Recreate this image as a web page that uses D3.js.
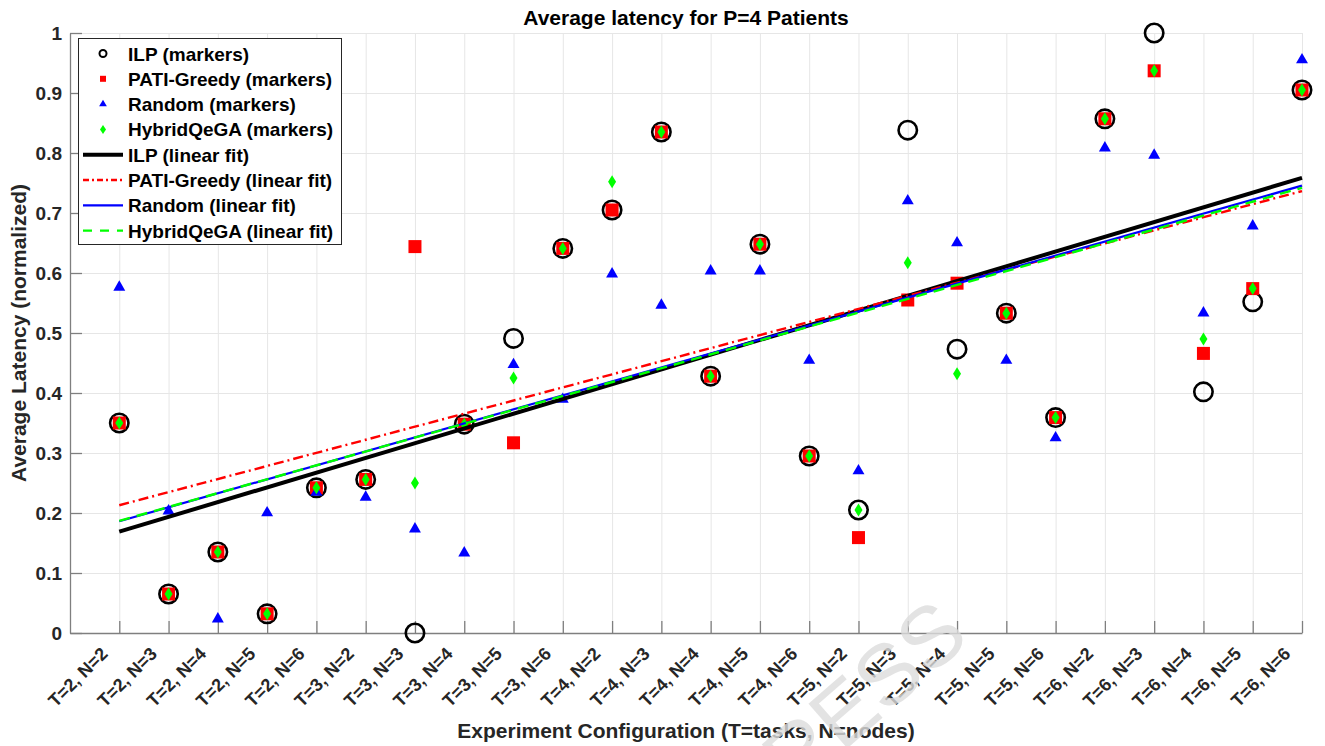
<!DOCTYPE html>
<html>
<head>
<meta charset="utf-8">
<script src="https://cdn.jsdelivr.net/npm/d3@7"></script>
<style>
  html, body { margin: 0; padding: 0; background: #fff; }
  svg { display: block; font-family: "Liberation Sans", Arial, sans-serif; }
</style>
</head>
<body>
<svg id="chart" width="1325" height="746"></svg>
<script>
// Experiment configurations (x axis)
const categories = [
  "T=2, N=2", "T=2, N=3", "T=2, N=4", "T=2, N=5", "T=2, N=6",
  "T=3, N=2", "T=3, N=3", "T=3, N=4", "T=3, N=5", "T=3, N=6",
  "T=4, N=2", "T=4, N=3", "T=4, N=4", "T=4, N=5", "T=4, N=6",
  "T=5, N=2", "T=5, N=3", "T=5, N=4", "T=5, N=5", "T=5, N=6",
  "T=6, N=2", "T=6, N=3", "T=6, N=4", "T=6, N=5", "T=6, N=6"
];

// Normalized average latency per method
const ilpValues = [0.350, 0.065, 0.135, 0.032, 0.242, 0.256, 0.000, 0.348, 0.491, 0.641,
                   0.705, 0.835, 0.428, 0.648, 0.295, 0.205, 0.838, 0.473, 0.533, 0.359,
                   0.857, 1.000, 0.402, 0.552, 0.905];
const greedyValues = [0.350, 0.065, 0.135, 0.032, 0.242, 0.256, 0.644, 0.348, 0.317, 0.641,
                      0.705, 0.835, 0.428, 0.648, 0.295, 0.159, 0.555, 0.583, 0.533, 0.359,
                      0.857, 0.937, 0.466, 0.574, 0.905];
const randomValues = [0.578, 0.205, 0.025, 0.202, 0.236, 0.228, 0.175, 0.135, 0.449, 0.391,
                      0.600, 0.548, 0.605, 0.605, 0.456, 0.272, 0.722, 0.652, 0.456, 0.327,
                      0.810, 0.798, 0.535, 0.680, 0.957];
const hybridValues = [0.350, 0.065, 0.135, 0.032, 0.242, 0.256, 0.250, 0.348, 0.425, 0.641,
                      0.752, 0.835, 0.428, 0.648, 0.295, 0.205, 0.617, 0.432, 0.533, 0.359,
                      0.857, 0.937, 0.490, 0.574, 0.905];

const yTickValues = [0, 0.1, 0.2, 0.3, 0.4, 0.5, 0.6, 0.7, 0.8, 0.9, 1];
const yTickLabels = ["0", "0.1", "0.2", "0.3", "0.4", "0.5", "0.6", "0.7", "0.8", "0.9", "1"];

const titleText = "Average latency for P=4 Patients";
const xLabelText = "Experiment Configuration (T=tasks, N=nodes)";
const yLabelText = "Average Latency (normalized)";

const svg = d3.select("#chart");
const plotLeft = 70, plotRight = 1302, plotTop = 33, plotBottom = 633;

const x = d3.scaleLinear().domain([0, categories.length]).range([plotLeft, plotRight]);
const y = d3.scaleLinear().domain([0, 1]).range([plotBottom, plotTop]);
const xIdx = d3.range(1, categories.length + 1);

const textColor = "#262626";
const axisColor = "#7f7f7f";
const gridColor = "#e6e6e6";

// Grid
svg.append("g")
  .attr("transform", `translate(0,${plotBottom})`)
  .call(d3.axisBottom(x).tickValues(xIdx).tickSize(-(plotBottom - plotTop)).tickFormat(""))
  .call(g => g.select(".domain").remove())
  .call(g => g.selectAll("line").attr("stroke", gridColor));
svg.append("g")
  .attr("transform", `translate(${plotLeft},0)`)
  .call(d3.axisLeft(y).tickValues(yTickValues).tickSize(-(plotRight - plotLeft)).tickFormat(""))
  .call(g => g.select(".domain").remove())
  .call(g => g.selectAll("line").attr("stroke", gridColor));

// Axes
const yAxis = svg.append("g")
  .attr("transform", `translate(${plotLeft},0)`)
  .call(d3.axisLeft(y).tickValues(yTickValues).tickSizeInner(-12).tickSizeOuter(0).tickPadding(8)
        .tickFormat((d, i) => yTickLabels[i]));
yAxis.selectAll("text").attr("font-size", 19).attr("font-weight", "bold").attr("fill", textColor);

const xAxis = svg.append("g")
  .attr("transform", `translate(0,${plotBottom})`)
  .call(d3.axisBottom(x).tickValues(xIdx).tickSizeInner(-12).tickSizeOuter(0)
        .tickFormat(i => categories[i - 1]));
xAxis.selectAll("text")
  .attr("font-size", 18).attr("font-weight", "bold").attr("fill", textColor)
  .attr("text-anchor", "end")
  .attr("dy", null)
  .attr("y", 0)
  .attr("transform", "translate(-11,22) rotate(-45)");

[yAxis, xAxis].forEach(a => {
  a.select(".domain").attr("stroke", axisColor).attr("stroke-width", 1.3);
  a.selectAll(".tick line").attr("stroke", axisColor).attr("stroke-width", 1.3);
});

// Least-squares fit of a series over the category index
function linearFit(vals) {
  const mx = d3.mean(xIdx), my = d3.mean(vals);
  let sxy = 0, sxx = 0;
  vals.forEach((v, i) => { sxy += (xIdx[i] - mx) * (v - my); sxx += (xIdx[i] - mx) ** 2; });
  const slope = sxy / sxx;
  return t => my + slope * (t - mx);
}

const plot = svg.append("g");

// Markers
plot.selectAll(".ilp").data(ilpValues).join("circle")
  .attr("cx", (d, i) => x(xIdx[i])).attr("cy", d => y(d)).attr("r", 9.2)
  .attr("fill", "none").attr("stroke", "#000").attr("stroke-width", 2.6);

plot.selectAll(".greedy").data(greedyValues).join("rect")
  .attr("x", (d, i) => x(xIdx[i]) - 6.5).attr("y", d => y(d) - 6.5)
  .attr("width", 13).attr("height", 13).attr("fill", "#ff0000");

const tri = d3.symbol().type(d3.symbolTriangle).size(62);
plot.selectAll(".random").data(randomValues).join("path")
  .attr("d", tri())
  .attr("transform", (d, i) => `translate(${x(xIdx[i])},${y(d) + 1})`)
  .attr("fill", "#0000ff");

const diamond = "M0,-6.5L4,0L0,6.5L-4,0Z";
plot.selectAll(".hybrid").data(hybridValues).join("path")
  .attr("d", diamond)
  .attr("transform", (d, i) => `translate(${x(xIdx[i])},${y(d)})`)
  .attr("fill", "#00ff00");

// Fit lines
const fits = [
  { vals: ilpValues, color: "#000000", width: 4, dash: null },
  { vals: greedyValues, color: "#ff0000", width: 2.4, dash: "10,4,2,4" },
  { vals: randomValues, color: "#0000ff", width: 2.2, dash: null },
  { vals: hybridValues, color: "#00ff00", width: 2.4, dash: "11,7" }
];
fits.forEach(f => {
  const fn = linearFit(f.vals);
  const x0 = xIdx[0], x1 = xIdx[xIdx.length - 1];
  plot.append("line")
    .attr("x1", x(x0)).attr("y1", y(fn(x0)))
    .attr("x2", x(x1)).attr("y2", y(fn(x1)))
    .attr("stroke", f.color).attr("stroke-width", f.width)
    .attr("stroke-dasharray", f.dash);
});

// Legend
const legendItems = [
  { label: "ILP (markers)", kind: "circle" },
  { label: "PATI-Greedy (markers)", kind: "square" },
  { label: "Random (markers)", kind: "triangle" },
  { label: "HybridQeGA (markers)", kind: "diamond" },
  { label: "ILP (linear fit)", kind: "line", color: "#000000", width: 4, dash: null },
  { label: "PATI-Greedy (linear fit)", kind: "line", color: "#ff0000", width: 2.4, dash: "6,3,2,3" },
  { label: "Random (linear fit)", kind: "line", color: "#0000ff", width: 2.2, dash: null },
  { label: "HybridQeGA (linear fit)", kind: "line", color: "#00ff00", width: 2.4, dash: "9,8" }
];
const lg = svg.append("g");
lg.append("rect").attr("x", 78.5).attr("y", 38.5).attr("width", 263).attr("height", 206)
  .attr("fill", "#fff").attr("stroke", "#262626").attr("stroke-width", 1);
legendItems.forEach((it, i) => {
  const cy = 53.5 + i * 25.3;
  const g = lg.append("g").attr("transform", `translate(0,${cy})`);
  if (it.kind === "circle") {
    g.append("circle").attr("cx", 103).attr("cy", 0).attr("r", 3.5)
      .attr("fill", "none").attr("stroke", "#000").attr("stroke-width", 2);
  } else if (it.kind === "square") {
    g.append("rect").attr("x", 100).attr("y", -3).attr("width", 6).attr("height", 6).attr("fill", "#ff0000");
  } else if (it.kind === "triangle") {
    g.append("path").attr("d", d3.symbol().type(d3.symbolTriangle).size(26)())
      .attr("transform", "translate(103,0)").attr("fill", "#0000ff");
  } else if (it.kind === "diamond") {
    g.append("path").attr("d", "M0,-4.5L3,0L0,4.5L-3,0Z")
      .attr("transform", "translate(103,0)").attr("fill", "#00ff00");
  } else {
    g.append("line").attr("x1", 83).attr("x2", 123).attr("y1", 0).attr("y2", 0)
      .attr("stroke", it.color).attr("stroke-width", it.width).attr("stroke-dasharray", it.dash);
  }
  g.append("text").attr("x", 128).attr("y", 7)
    .attr("font-size", 19).attr("font-weight", "bold").attr("fill", "#000")
    .text(it.label);
});

// Titles
svg.append("text").attr("x", 686).attr("y", 25).attr("text-anchor", "middle")
  .attr("font-size", 21).attr("font-weight", "bold").attr("fill", "#000").text(titleText);
svg.append("text").attr("x", 686).attr("y", 738).attr("text-anchor", "middle")
  .attr("font-size", 21).attr("font-weight", "bold").attr("fill", textColor).text(xLabelText);
svg.append("text").attr("transform", "translate(26,333) rotate(-90)").attr("text-anchor", "middle")
  .attr("font-size", 21).attr("font-weight", "bold").attr("fill", textColor).text(yLabelText);

// Press watermark
svg.append("text").attr("transform", "translate(972,640) rotate(-41)")
  .attr("text-anchor", "end").attr("font-size", 86)
  .attr("fill", "#dcdcdc").attr("fill-opacity", 0.8).text("IN PRESS");
</script>
</body>
</html>
